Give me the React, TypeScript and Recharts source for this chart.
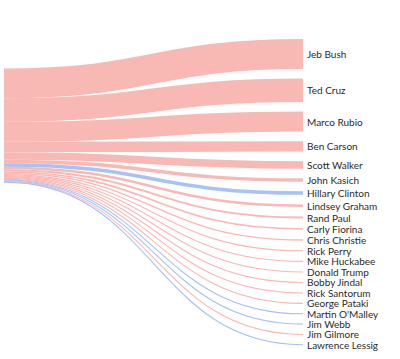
import React from 'react';
import { Sankey } from 'recharts';

// candidates, top to bottom
const candidates = [
  'Jeb Bush',
  'Ted Cruz',
  'Marco Rubio',
  'Ben Carson',
  'Scott Walker',
  'John Kasich',
  'Hillary Clinton',
  'Lindsey Graham',
  'Rand Paul',
  'Carly Fiorina',
  'Chris Christie',
  'Rick Perry',
  'Mike Huckabee',
  'Donald Trump',
  'Bobby Jindal',
  'Rick Santorum',
  'George Pataki',
  "Martin O'Malley",
  'Jim Webb',
  'Jim Gilmore',
  'Lawrence Lessig',
];

const values = [30, 23.6, 20, 10.5, 7.5, 3.5, 3.5, 2.5, 2, 1.6, 1.3, 1.1, 1.0, 0.9, 0.9, 0.9, 0.8, 0.8, 0.7, 0.7, 0.6];

// R = republican, D = democrat
const parties = ['R', 'R', 'R', 'R', 'R', 'R', 'D', 'R', 'R', 'R', 'R', 'R', 'R', 'R', 'R', 'R', 'R', 'D', 'D', 'R', 'D'];

const PARTY_COLORS: Record<string, string> = {
  R: '#f8b8b4',
  D: '#a7c2f5',
};

const data = {
  nodes: [{ name: '' }, ...candidates.map((name) => ({ name }))],
  links: candidates.map((_, i) => ({ source: 0, target: i + 1, value: values[i] })),
};

const SankeyLink = (props: any) => {
  const { sourceX, targetX, sourceY, targetY, sourceControlX, targetControlX, linkWidth, index } = props;
  const color = PARTY_COLORS[parties[index]];
  return (
    <path
      d={`M${sourceX},${sourceY} C${sourceControlX},${sourceY} ${targetControlX},${targetY} ${targetX},${targetY}`}
      fill="none"
      stroke={color}
      strokeWidth={Math.max(linkWidth, 1.1)}
    />
  );
};

const SankeyNode = (props: any) => {
  const { x, y, width, height, index, payload } = props;
  if (index === 0) return <g />;
  return (
    <text
      x={x + width + 2}
      y={y + height / 2}
      dominantBaseline="central"
      fontSize={10}
      fontFamily="Lato, 'Liberation Sans', sans-serif"
      fill="#2a2a2a"
    >
      {payload.name}
    </text>
  );
};

export default function App() {
  return (
    <div style={{ position: 'absolute', left: 0, top: 0, background: '#fff' }}>
      <Sankey
        width={400}
        height={359}
        data={data}
        nodeWidth={2}
        nodePadding={9.6}
        linkCurvature={0.5}
        iterations={32}
        margin={{ top: 39, right: 95, bottom: 14, left: 2 }}
        node={<SankeyNode />}
        link={<SankeyLink />}
      />
    </div>
  );
}
